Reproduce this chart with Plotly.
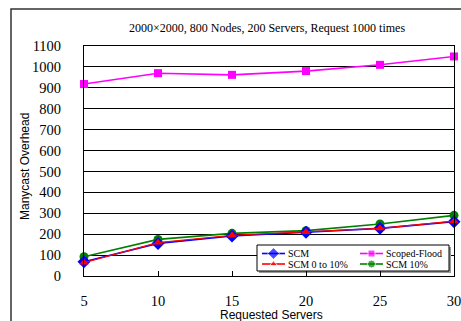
import plotly.graph_objects as go

# Requested servers (x) and manycast overhead per scheme
requested_servers = [5, 10, 15, 20, 25, 30]
scm = [68, 156, 191, 209, 228, 260]
scoped_flood = [918, 970, 962, 980, 1010, 1050]
scm_0_to_10 = [64, 160, 195, 210, 228, 262]
scm_10 = [92, 175, 204, 217, 249, 290]
y_ticks = [0, 100, 200, 300, 400, 500, 600, 700, 800, 900, 1000, 1100]

series_names = ["SCM", "Scoped-Flood", "SCM 0 to 10%", "SCM 10%"]
series_values = [scm, scoped_flood, scm_0_to_10, scm_10]
series_colors = ["#0000FF", "#FF00FF", "#FF0000", "#008000"]
series_symbols = ["diamond", "square", "triangle-up", "circle"]
series_sizes = [10, 8, 8, 9]
draw_order = [3, 1, 0, 2]  # green, magenta, blue, red on top

W, H = 461, 321
ML, MR, MT, MB = 84, 7, 46, 45
PW, PH = W - ML - MR, H - MT - MB


def px_x(x):
    return (x - ML) / PW


def px_y(y):
    return (H - MB - y) / PH


serif = "Liberation Serif, Times New Roman, serif"
sans = "Liberation Sans, Arial, sans-serif"

fig = go.Figure()

for i in draw_order:
    fig.add_trace(go.Scatter(
        x=requested_servers, y=series_values[i], name=series_names[i],
        mode="lines+markers",
        line=dict(color=series_colors[i], width=1.6 if i != 2 else 1.2),
        marker=dict(symbol=series_symbols[i], size=series_sizes[i], color=series_colors[i]),
        cliponaxis=False, showlegend=False))

# Legend box, drawn on a pixel-space overlay (x2/y2)
LX0, LX1, LY0, LY1 = 257, 449, 245, 271
fig.add_trace(go.Scatter(
    x=[LX0 + 2, LX1 + 2, LX1 + 2, LX0 + 2, LX0 + 2],
    y=[LY0 + 2, LY0 + 2, LY1 + 2, LY1 + 2, LY0 + 2],
    xaxis="x2", yaxis="y2", mode="lines", fill="toself",
    fillcolor="#9a9a9a", line=dict(width=0, color="#9a9a9a"),
    showlegend=False, hoverinfo="skip"))
fig.add_trace(go.Scatter(
    x=[LX0, LX1, LX1, LX0, LX0], y=[LY0, LY0, LY1, LY1, LY0],
    xaxis="x2", yaxis="y2", mode="lines", fill="toself",
    fillcolor="white", line=dict(width=1, color="black"),
    showlegend=False, hoverinfo="skip"))

col_x = [262, 360]
row_y = [253.5, 264]
sym_len = 23
annotations = []
for k in range(4):
    cx = col_x[k % 2]
    cy = row_y[k // 2]
    fig.add_trace(go.Scatter(
        x=[cx, cx + sym_len / 2, cx + sym_len], y=[cy, cy, cy],
        xaxis="x2", yaxis="y2", mode="lines+markers",
        line=dict(color=series_colors[k], width=1.6),
        marker=dict(symbol=series_symbols[k], color=series_colors[k],
                    size=[0, series_sizes[k] - 1, 0]),
        showlegend=False, hoverinfo="skip"))
    annotations.append(dict(
        text=series_names[k], xref="x2", yref="y2",
        x=cx + sym_len + 2, y=cy, xanchor="left", yanchor="middle",
        showarrow=False, borderpad=0,
        font=dict(family=serif, size=10, color="black")))

fig.update_layout(
    width=W, height=H,
    margin=dict(l=ML, r=MR, t=MT, b=MB, autoexpand=False),
    paper_bgcolor="white", plot_bgcolor="white",
    showlegend=False,
    xaxis=dict(
        range=[5, 30], tickvals=requested_servers,
        ticks="inside", ticklen=5, tickcolor="black", tickwidth=1,
        showgrid=False, zeroline=False,
        showline=True, linecolor="black", linewidth=1, mirror=True,
        tickfont=dict(family=serif, size=14.5, color="black"),
        ticklabelstandoff=12, ticklabeloverflow="allow",
    ),
    yaxis=dict(
        range=[0, 1100], tickvals=y_ticks,
        ticks="outside", ticklen=0,
        showgrid=True, gridcolor="black", gridwidth=1, zeroline=False,
        showline=True, linecolor="black", linewidth=1, mirror=True,
        tickfont=dict(family=serif, size=14.5, color="black"),
        ticklabelstandoff=19, ticklabeloverflow="allow",
    ),
    xaxis2=dict(overlaying="x", range=[ML, W - MR], visible=False, fixedrange=True),
    yaxis2=dict(overlaying="y", range=[H - MB, MT], visible=False, fixedrange=True),
    shapes=[dict(
        type="rect", xref="paper", yref="paper",
        x0=px_x(11), x1=px_x(470), y0=px_y(330), y1=px_y(9),
        line=dict(color="#333333", width=1.5), fillcolor="rgba(0,0,0,0)", layer="below",
    )],
    annotations=annotations + [
        dict(text="2000×2000, 800 Nodes, 200 Servers, Request 1000 times",
             xref="paper", yref="paper", x=px_x(267), y=px_y(28),
             xanchor="center", yanchor="middle", showarrow=False,
             font=dict(family=serif, size=12, color="black")),
        dict(text="Manycast Overhead", textangle=-90,
             xref="paper", yref="paper", x=px_x(25), y=px_y(167),
             xanchor="center", yanchor="middle", showarrow=False,
             font=dict(family=sans, size=12, color="black")),
        dict(text="Requested Servers",
             xref="paper", yref="paper", x=px_x(271), y=px_y(315),
             xanchor="center", yanchor="middle", showarrow=False,
             font=dict(family=sans, size=12, color="black")),
    ],
)

fig.write_html("out.html")
